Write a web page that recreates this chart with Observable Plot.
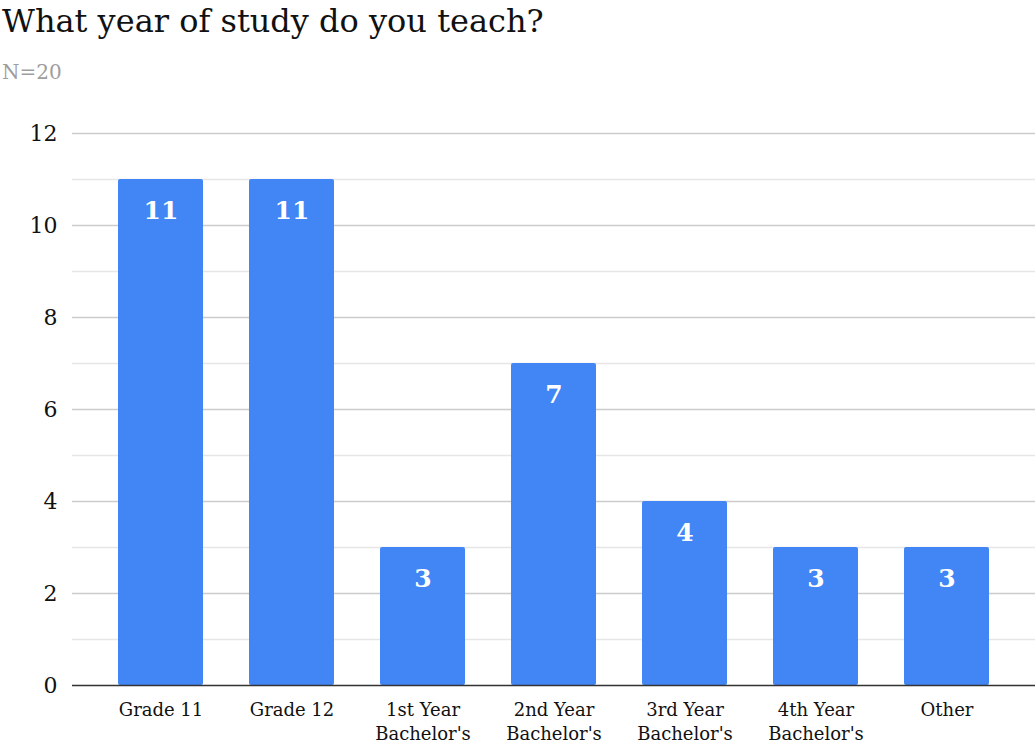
<!DOCTYPE html>
<html>
<head>
<meta charset="utf-8">
<script src="https://cdn.jsdelivr.net/npm/d3@7"></script>
<script src="https://cdn.jsdelivr.net/npm/@observablehq/plot@0.6"></script>
<style>
  html, body { margin: 0; padding: 0; background: #fff; }
  #wrap { width: 1035px; font-family: "DejaVu Serif", "Liberation Serif", serif; }
  #title { font-size: 32px; color: #111; height: 48px; line-height: 42px; padding-left: 2px; white-space: nowrap; }
  #subtitle { font-size: 20px; color: #9e9e9e; height: 47px; line-height: 48px; padding-left: 2px; }
  svg { overflow: visible; }
</style>
</head>
<body>
<div id="wrap">
  <div id="title">What year of study do you teach?</div>
  <div id="subtitle">N=20</div>
  <div id="chart"></div>
</div>
<script>
const categories = ["Grade 11", "Grade 12", "1st Year\nBachelor's", "2nd Year\nBachelor's", "3rd Year\nBachelor's", "4th Year\nBachelor's", "Other"];
const counts = [11, 11, 3, 7, 4, 3, 3];
const majorTicks = [0, 2, 4, 6, 8, 10, 12];
const minorTicks = [1, 3, 5, 7, 9, 11];

const data = categories.map((c, i) => ({category: c, count: counts[i]}));

const chart = Plot.plot({
  width: 1035,
  height: 651,
  marginTop: 38,
  marginBottom: 61,
  marginLeft: 72,
  marginRight: 0,
  style: {fontFamily: "'DejaVu Serif', 'Liberation Serif', serif", background: "#fff", overflow: "visible"},
  x: {domain: categories, padding: 0.35, label: null},
  y: {domain: [0, 12], label: null},
  marks: [
    Plot.ruleY(minorTicks, {stroke: "#e6e6e6", strokeWidth: 1.5}),
    Plot.ruleY(majorTicks.filter(d => d !== 0), {stroke: "#cccccc", strokeWidth: 1.5}),
    Plot.barY(data, {x: "category", y: "count", fill: "#4285f4", rx: 2}),
    Plot.ruleY([0], {stroke: "#333", strokeWidth: 1.5}),
    Plot.text(data, {x: "category", y: "count", text: d => String(d.count), fill: "#fff", fontWeight: "bold", fontSize: 25, dy: 31}),
    Plot.axisY(majorTicks, {tickSize: 0, tickPadding: 15, fontSize: 22, fill: "#111", label: null}),
    Plot.axisX({tickSize: 0, tickPadding: 13, fontSize: 18, fill: "#111", label: null, lineHeight: 1.35})
  ]
});
document.getElementById("chart").appendChild(chart);
</script>
</body>
</html>
